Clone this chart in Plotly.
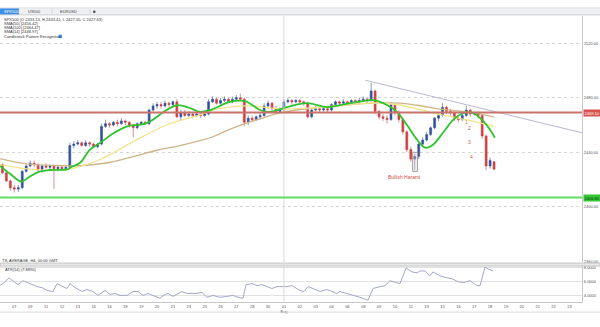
import plotly.graph_objects as go

# ---------------- data ----------------
bar_index = list(range(126))
opens = [2433, 2431, 2425, 2419, 2414, 2413, 2414, 2426, 2430, 2432,
         2431, 2427, 2430, 2429, 2430, 2428, 2429, 2428, 2429, 2445,
         2446, 2447, 2445, 2447, 2446, 2444, 2446, 2459, 2461, 2460,
         2462, 2461, 2463, 2462, 2460, 2458, 2461, 2462, 2461, 2471,
         2474, 2475, 2474, 2476, 2475, 2477, 2466, 2469, 2467, 2468,
         2467, 2468, 2467, 2468, 2477, 2479, 2476, 2478, 2479, 2477,
         2479, 2480, 2479, 2462, 2465, 2464, 2466, 2467, 2474, 2476,
         2472, 2470, 2471, 2477, 2478, 2477, 2478, 2477, 2476, 2466,
         2471, 2472, 2471, 2472, 2471, 2475, 2477, 2476, 2477, 2476,
         2478, 2477, 2478, 2479, 2478, 2485, 2470, 2466, 2465, 2464,
         2475, 2469, 2464, 2455, 2442, 2435, 2437, 2446, 2449, 2453,
         2458, 2465, 2467, 2473, 2470, 2469, 2465, 2464, 2467, 2471,
         2468, 2469, 2467, 2452, 2430, 2433.13]
highs = [2435, 2432, 2426, 2420, 2416, 2416, 2427, 2431, 2434, 2434,
         2432, 2431, 2432, 2431, 2431, 2430, 2430, 2430, 2447, 2448,
         2449, 2448, 2449, 2448, 2447, 2447, 2461, 2464, 2462, 2463,
         2464, 2465, 2464, 2463, 2461, 2462, 2463, 2463, 2472, 2476,
         2477, 2477, 2478, 2477, 2478, 2479, 2471, 2471, 2470, 2469,
         2469, 2469, 2470, 2479, 2481, 2480, 2480, 2481, 2480, 2481,
         2482, 2483, 2480, 2467, 2467, 2467, 2469, 2476, 2478, 2477,
         2474, 2473, 2479, 2480, 2479, 2479, 2479, 2478, 2477, 2472,
         2474, 2473, 2474, 2473, 2476, 2478, 2478, 2479, 2478, 2479,
         2479, 2480, 2481, 2480, 2491, 2486, 2471, 2468, 2467, 2477,
         2476, 2471, 2465, 2456, 2444, 2439, 2447, 2451, 2455, 2459,
         2466, 2469, 2476, 2474, 2472, 2470, 2466, 2469, 2474, 2472,
         2470, 2470, 2468, 2453, 2436, 2433.41]
lows = [2430, 2424, 2418, 2412, 2410.5, 2411, 2413, 2425, 2429, 2429,
        2426, 2425, 2428, 2427, 2413, 2426, 2427, 2427, 2428, 2443,
        2445, 2444, 2444, 2444, 2443, 2443, 2445, 2458, 2458, 2459,
        2459, 2460, 2460, 2458, 2451, 2457, 2460, 2460, 2460, 2470,
        2472, 2472, 2473, 2473, 2474, 2465, 2463, 2466, 2466, 2465,
        2466, 2465, 2466, 2467, 2476, 2475, 2475, 2477, 2476, 2476,
        2478, 2478, 2459, 2460, 2462, 2463, 2464, 2466, 2472, 2470,
        2468, 2469, 2470, 2476, 2475, 2476, 2475, 2474, 2465, 2465,
        2470, 2469, 2470, 2469, 2470, 2474, 2474, 2475, 2475, 2475,
        2476, 2476, 2477, 2476, 2477, 2468, 2464, 2463, 2461, 2463,
        2467, 2462, 2453, 2440, 2433, 2427, 2435, 2444, 2448, 2452,
        2457, 2463, 2466, 2468, 2467, 2463, 2462, 2463, 2466, 2466,
        2467, 2465, 2450, 2427, 2428, 2427.05]
closes = [2431, 2425, 2419, 2414, 2413, 2414, 2426, 2430, 2432, 2431,
          2427, 2430, 2429, 2430, 2428, 2429, 2428, 2429, 2445, 2446,
          2447, 2445, 2447, 2446, 2444, 2446, 2459, 2461, 2460, 2462,
          2461, 2463, 2462, 2460, 2458, 2461, 2462, 2461, 2471, 2474,
          2475, 2474, 2476, 2475, 2477, 2466, 2469, 2467, 2468, 2467,
          2468, 2467, 2468, 2477, 2479, 2476, 2478, 2479, 2477, 2479,
          2480, 2479, 2462, 2465, 2464, 2466, 2467, 2474, 2476, 2472,
          2470, 2471, 2477, 2478, 2477, 2478, 2477, 2476, 2466, 2471,
          2472, 2471, 2472, 2471, 2475, 2477, 2476, 2477, 2476, 2478,
          2477, 2478, 2479, 2478, 2485, 2470, 2466, 2465, 2464, 2475,
          2469, 2464, 2455, 2442, 2435, 2437, 2446, 2449, 2453, 2458,
          2465, 2467, 2473, 2470, 2469, 2465, 2464, 2467, 2471, 2468,
          2469, 2467, 2452, 2430, 2434, 2427.63]

# moving averages (sampled along the drawn curves)
sma_fast_x = [0.4, 3, 5.8, 7.5, 10, 13, 17.3, 18.5, 20.6, 23.1, 25.6, 29, 32.3, 37.4,
              42.4, 45, 48.3, 50.8, 53.4, 58.4, 62.2, 66, 68.5, 72.8, 77.8, 82.9,
              87.4, 92, 94.5, 98, 100.5, 103, 105.6, 107.6, 109.6, 112.1, 114.7,
              117.2, 119.7, 122, 124, 125.2]
sma_fast_y = [2430, 2424, 2418.5, 2421.5, 2425.5, 2427, 2427.4, 2429.4, 2432.3, 2442,
              2446.8, 2454, 2458.9, 2461.4, 2471, 2474.5, 2472.5, 2469.6, 2471, 2476.9,
              2477.6, 2471, 2469.6, 2473.2, 2476.1, 2473.2, 2475.4, 2477.6, 2478.3,
              2474.7, 2469.6, 2460.2, 2449.2, 2443.4, 2445.6, 2454.3, 2463.8, 2468.8,
              2468.8, 2463.8, 2456.5, 2450.7]
sma_mid_x = [0.4, 8.7, 17.3, 25.6, 34, 42.5, 50.8, 54.1, 62.7, 71, 79.3, 86.2, 93,
             101.3, 109.6, 118.2, 125]
sma_mid_y = [2431, 2427.4, 2427.4, 2434.7, 2447.8, 2460.2, 2467.4, 2471, 2474, 2471.8,
             2472.5, 2474, 2476.1, 2474.7, 2468.8, 2463.8, 2459]
sma_slow_x = [0.4, 7.2, 14, 21.3, 28, 34, 40, 45.8, 50.8, 54.1, 58, 62.7, 67, 71,
              79.3, 87.8, 95, 101.3, 105.6, 112, 118.2, 125]
sma_slow_y = [2435.4, 2431.5, 2430.3, 2430.3, 2432.5, 2436.9, 2441.5, 2444.9, 2448.5,
              2451.4, 2456.5, 2461.6, 2465.5, 2468.9, 2472.5, 2474.7, 2476, 2476.1,
              2474.5, 2471.5, 2469.6, 2466]

# ATR(14) lower panel
atr_x = [0.4, 1.15, 2.66, 3.67, 4.93, 6.19, 7.96, 9.73, 10.99, 12.25, 13.76, 14.77,
         16.28, 17.29, 18.05, 19.31, 21.07, 22.34, 23.85, 25.11, 26.88, 28.14, 29.4,
         30.66, 32.43, 33.94, 35.2, 36.46, 37.72, 38.98, 40.75, 42.01, 42.77, 44.03,
         46.3, 47.56, 48.82, 50.08, 51.34, 52.6, 54.11, 55.88, 57.64, 59.16, 60.42,
         61.68, 62.44, 63.95, 65.21, 66.47, 67.73, 68.99, 70.25, 71.51, 72.77, 74.03,
         75.29, 76.05, 77.06, 78.07, 79.33, 81.09, 82.86, 84.37, 85.38, 86.14, 87.9,
         89.42, 91.18, 93.2, 94.46, 96.23, 97.49, 98.75, 101.27, 102.79, 104.3,
         105.56, 106.32, 107.58, 108.84, 109.6, 111.37, 113.13, 114.39, 115.91,
         117.17, 118.94, 120.7, 121.46, 122.72, 123.48, 124.74]
atr_v = [5.46, 5.70, 6.52, 6.11, 5.56, 6.11, 5.70, 5.28, 5.14, 4.73, 4.59, 5.70,
         5.28, 5.01, 5.70, 5.14, 4.59, 4.87, 4.59, 4.04, 4.73, 4.18, 4.32, 4.04,
         4.04, 4.59, 4.59, 4.04, 4.32, 4.04, 3.63, 4.18, 4.32, 3.90, 4.59, 4.32,
         4.32, 4.32, 4.46, 3.77, 4.04, 3.77, 3.90, 4.04, 3.77, 3.63, 5.56, 5.70,
         5.42, 5.56, 5.28, 5.01, 5.28, 5.28, 5.28, 5.42, 5.01, 4.73, 4.59, 5.28,
         5.01, 4.59, 4.87, 4.59, 4.32, 4.59, 4.32, 4.04, 3.77, 3.35, 5.01, 5.28,
         5.42, 6.11, 5.70, 7.90, 7.35, 7.21, 7.49, 7.49, 6.80, 7.35, 6.80, 6.52,
         6.39, 5.97, 5.83, 6.11, 5.42, 5.42, 8.04, 7.77, 7.49]

# axis ticks
tick_bars = list(range(4, 148, 4))
tick_text = ["07", "09", "11", "12", "13", "14", "16", "18", "19", "20", "21", "23",
             "25", "26", "27", "28", "30", "01<br>Aug", "02", "03", "04", "06", "08",
             "09", "10", "11", "13", "15", "16", "17", "18", "19", "20", "21", "22", "23"]
price_ticks = [2360, 2400, 2440, 2480, 2520]
atr_ticks = [4, 6, 8]
month_start_bar = 72

# levels / drawings
resistance_level = 2469.1
support_level = 2406.8
trend_x = [92.5, 147.2]
trend_y = [2492.9, 2454.3]
harami_box = dict(x0=104.45, x1=105.7, y0=2426, y1=2440)
harami_label = dict(x=102.3, y=2421.6, text="Bullish Harami")
wave_labels = [("1", 118.1, 2461.9, "#e0824a"), ("2", 118.7, 2457.6, "#c8604f"),
               ("3", 118.7, 2447.8, "#c8604f"), ("4", 119.2, 2436.9, "#c8604f")]

legend_lines = ["SPX500 (O 2433.13, H 2433.41, L 2427.05, C 2427.63)",
                "SMA(50) [2456.42]", "SMA(100) [2464.47]", "SMA(14) [2448.97]",
                "Candlestick Pattern Recognition"]
tabs = ["SPX500", "US500", "EURUSD"]

# ---------------- figure ----------------
W, H = 600, 327
def px(x):
    return x / W
def py(y):
    return 1 - y / H

FONT = "Liberation Sans, Arial, sans-serif"
XR = [0.39, 147.18]

fig = go.Figure()

fig.add_trace(go.Scatter(x=sma_slow_x, y=sma_slow_y, mode="lines", line_shape="spline",
                         line=dict(color="#cdb48a", width=1.3), xaxis="x", yaxis="y", hoverinfo="skip"))
fig.add_trace(go.Scatter(x=sma_mid_x, y=sma_mid_y, mode="lines", line_shape="spline",
                         line=dict(color="#f1e48e", width=1.3), xaxis="x", yaxis="y", hoverinfo="skip"))
fig.add_trace(go.Candlestick(x=bar_index, open=opens, high=highs, low=lows, close=closes,
                             increasing=dict(line=dict(color="#33509e", width=0.6), fillcolor="#33509e"),
                             decreasing=dict(line=dict(color="#cf3f3f", width=0.6), fillcolor="#cf3f3f"),
                             whiskerwidth=0, xaxis="x", yaxis="y"))
fig.add_trace(go.Scatter(x=sma_fast_x, y=sma_fast_y, mode="lines", line_shape="spline",
                         line=dict(color="#2ec42e", width=1.8), xaxis="x", yaxis="y", hoverinfo="skip"))
fig.add_trace(go.Scatter(x=trend_x, y=trend_y, mode="lines",
                         line=dict(color="#b9b9cf", width=1), xaxis="x", yaxis="y", hoverinfo="skip"))
fig.add_trace(go.Scatter(x=atr_x, y=atr_v, mode="lines",
                         line=dict(color="#a3a7cc", width=1), xaxis="x2", yaxis="y2", hoverinfo="skip"))

shapes = [
    # tab strip
    dict(type="rect", xref="paper", yref="paper", x0=0, x1=1, y0=py(14), y1=py(7),
         fillcolor="#eef0f4", line=dict(width=0), layer="below"),
    dict(type="line", xref="paper", yref="paper", x0=0, x1=1, y0=py(14), y1=py(14),
         line=dict(color="#c9cdd3", width=1)),
    dict(type="line", xref="paper", yref="paper", x0=0, x1=1, y0=py(7), y1=py(7),
         line=dict(color="#dde0e4", width=1)),
    dict(type="rect", xref="paper", yref="paper", x0=0, x1=px(19), y0=py(13.5), y1=py(7.5),
         fillcolor="#3b8fe2", line=dict(width=0)),
    dict(type="line", xref="paper", yref="paper", x0=px(52), x1=px(52), y0=py(13), y1=py(8),
         line=dict(color="#d0d4da", width=1)),
    dict(type="line", xref="paper", yref="paper", x0=px(90), x1=px(90), y0=py(13), y1=py(8),
         line=dict(color="#d0d4da", width=1)),
    dict(type="circle", xref="paper", yref="paper", x0=px(93), x1=px(95.5), y0=py(12), y1=py(9.5),
         fillcolor="#444", line=dict(width=0)),
    # panel separator
    dict(type="rect", xref="paper", yref="paper", x0=0, x1=1, y0=py(267.5), y1=py(264.5),
         fillcolor="#e8e8e8", line=dict(color="#c6c6c6", width=1)),
    # bottom frame
    dict(type="line", xref="paper", yref="paper", x0=0, x1=1, y0=py(314), y1=py(314),
         line=dict(color="#dcdcdc", width=1)),
    # month separator
    dict(type="line", xref="x", yref="paper", x0=month_start_bar, x1=month_start_bar,
         y0=py(304), y1=py(15), line=dict(color="#dadada", width=1)),
    # horizontal levels
    dict(type="line", xref="paper", yref="y", x0=0, x1=0.97, y0=resistance_level,
         y1=resistance_level, line=dict(color="#c8736b", width=2)),
    dict(type="line", xref="paper", yref="y", x0=0, x1=0.97, y0=support_level,
         y1=support_level, line=dict(color="#62dd62", width=2)),
    # harami box
    dict(type="rect", xref="x", yref="y", fillcolor="rgba(240,205,205,0.35)",
         line=dict(color="#a0a0a0", width=1), **harami_box),
    # pattern icon
    dict(type="rect", xref="paper", yref="paper", x0=px(58.5), x1=px(62), y0=py(37.5), y1=py(34),
         fillcolor="#4b93dc", line=dict(width=0)),
]

annotations = []
def note(text, x, y, size=4, color="#333", xanchor="left", **kw):
    annotations.append(dict(text=text, x=px(x), y=py(y), xref="paper", yref="paper",
                            xanchor=xanchor, yanchor="middle", showarrow=False,
                            font=dict(family=FONT, size=size, color=color), **kw))

note(tabs[0], 2, 10.5, color="white")
note(tabs[1], 26, 10.5, color="#444")
note(tabs[2], 58, 10.5, color="#444")
for i, t in enumerate(legend_lines):
    note(t, 2, 18.3 + i * 4.3)
note("TS, AVERAGE, H4, 00:00 GMT", 0, 261.5)
note("ATR(14) (7.8890)", 3, 270.5)

annotations.append(dict(text=f"{resistance_level:.2f}", x=px(583), y=resistance_level,
                        xref="paper", yref="y", xanchor="left", yanchor="middle", showarrow=False,
                        bgcolor="#d9534f", borderpad=0.5,
                        font=dict(family=FONT, size=4, color="white")))
annotations.append(dict(text=f"{support_level:.2f}", x=px(583), y=support_level,
                        xref="paper", yref="y", xanchor="left", yanchor="middle", showarrow=False,
                        bgcolor="#35c535", borderpad=0.5,
                        font=dict(family=FONT, size=4, color="#0b3d0b")))
annotations.append(dict(text=harami_label["text"], x=harami_label["x"], y=harami_label["y"],
                        xref="x", yref="y", showarrow=False,
                        font=dict(family=FONT, size=5, color="#d24a44")))
for t, bx, by, c in wave_labels:
    annotations.append(dict(text=t, x=bx, y=by, xref="x", yref="y", showarrow=False,
                            font=dict(family=FONT, size=5, color=c)))

fig.update_layout(
    width=W, height=H, margin=dict(l=0, r=0, t=0, b=0),
    paper_bgcolor="white", plot_bgcolor="white", showlegend=False,
    font=dict(family=FONT, size=4, color="#555"),
    xaxis=dict(domain=[0, 0.97], range=XR, anchor="y", tickvals=tick_bars,
               showticklabels=False, showgrid=False, zeroline=False,
               rangeslider=dict(visible=False), fixedrange=True),
    yaxis=dict(domain=[py(263), py(15)], range=[2359.8, 2540.1], side="right", anchor="x",
               tickvals=price_ticks, ticktext=[f"{v:.2f}" for v in price_ticks],
               tickfont=dict(size=4, color="#555"), showgrid=True, gridcolor="#d6d6d6",
               griddash="dot", showline=True, linecolor="#c8c8c8", zeroline=False, ticks=""),
    xaxis2=dict(domain=[0, 0.97], range=XR, anchor="y2", matches="x", tickvals=tick_bars,
                ticktext=tick_text, tickangle=0, tickfont=dict(size=4, color="#555"),
                showgrid=False, zeroline=False, showline=True, linecolor="#c8c8c8", ticks=""),
    yaxis2=dict(domain=[py(304), py(267.5)], range=[3.08, 8.18], side="right", anchor="x2",
                tickvals=atr_ticks, ticktext=[f"{v:.4f}" for v in atr_ticks],
                tickfont=dict(size=4, color="#555"), showgrid=True, gridcolor="#e2e2e2",
                showline=True, linecolor="#c8c8c8", zeroline=False, ticks=""),
    shapes=shapes, annotations=annotations,
)

fig.write_html("out.html")
